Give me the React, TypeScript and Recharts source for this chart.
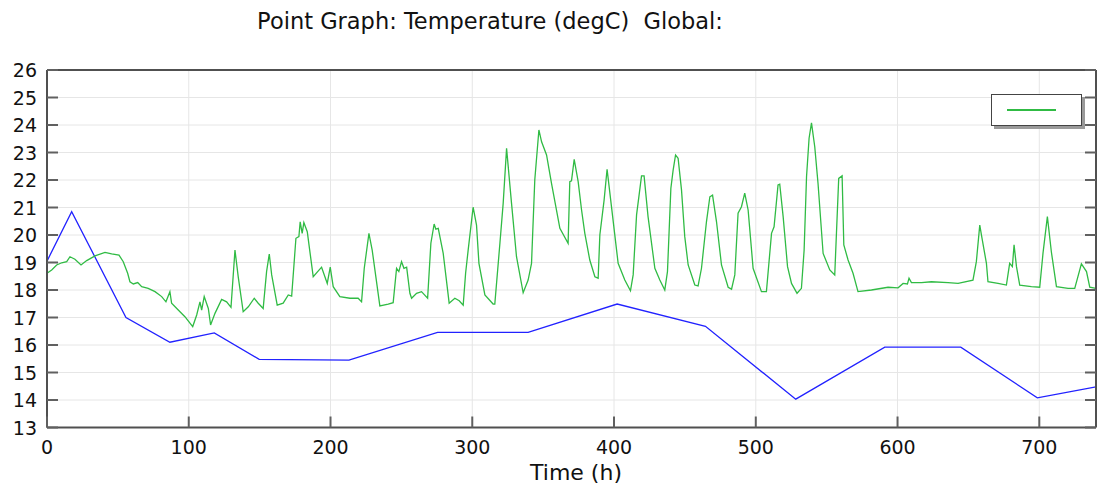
import React from 'react';
import { LineChart, Line, XAxis, YAxis, CartesianGrid } from 'recharts';

const titleText = 'Point Graph: Temperature (degC)  Global:';
const xAxisLabel = 'Time (h)';

const xTicks = [0, 100, 200, 300, 400, 500, 600, 700];
const yTicks = [13, 14, 15, 16, 17, 18, 19, 20, 21, 22, 23, 24, 25, 26];

const greenHours = [0, 3.3, 6.8, 10.4, 13.9, 16.2, 19.7, 24.0, 28.0, 33.9, 40.9, 45.6, 50.8, 53.8, 56.9, 58.5, 60.9, 64.0, 66.8, 71.4, 76.2, 80.9, 83.9, 86.7, 87.9, 92.6, 97.3, 102.8, 105.6, 107.9, 109.1, 110.9, 113.8, 115.4, 118.5, 123.2, 126.7, 129.8, 132.6, 134.9, 138.4, 142.0, 146.2, 149.0, 152.5, 154.9, 156.8, 158.5, 162.4, 166.6, 170.2, 172.6, 175.6, 177.7, 178.6, 180.0, 181.2, 183.6, 187.8, 193.7, 197.7, 199.8, 201.9, 206.6, 213.7, 219.5, 221.9, 223.8, 227.1, 229.4, 234.8, 240.7, 244.2, 246.6, 248.2, 250.1, 251.8, 253.7, 256.0, 257.2, 260.7, 264.2, 268.5, 270.8, 273.1, 274.3, 276.0, 279.5, 283.7, 287.7, 290.8, 293.6, 295.3, 297.1, 300.6, 303.0, 304.7, 308.9, 314.7, 315.9, 319.5, 321.8, 324.2, 327.7, 331.2, 335.9, 339.4, 341.8, 344.1, 347.0, 348.9, 352.4, 355.9, 361.8, 367.6, 368.8, 370.0, 371.9, 374.7, 377.1, 379.4, 382.9, 386.5, 388.8, 390.0, 393.0, 395.1, 398.2, 402.9, 407.6, 411.6, 413.5, 415.9, 419.4, 421.2, 424.0, 428.8, 432.3, 435.8, 437.7, 440.1, 441.7, 443.4, 445.2, 447.6, 449.9, 452.3, 457.0, 459.3, 461.7, 465.2, 467.6, 469.5, 472.3, 475.8, 480.5, 482.9, 485.2, 487.5, 489.9, 492.2, 494.6, 498.1, 504.0, 507.5, 511.1, 512.9, 515.7, 516.9, 519.3, 522.4, 525.2, 529.1, 532.2, 534.1, 535.8, 537.6, 539.3, 541.6, 543.9, 547.5, 552.2, 555.7, 558.5, 560.9, 562.1, 565.1, 568.6, 572.1, 581.6, 593.3, 600.4, 603.9, 607.0, 608.1, 609.8, 616.9, 623.9, 635.6, 642.7, 653.2, 655.6, 658.0, 659.6, 662.7, 663.8, 670.9, 676.8, 679.1, 681.0, 682.2, 683.9, 686.2, 694.4, 700.3, 702.6, 705.7, 708.5, 712.1, 720.3, 725.0, 729.7, 733.3, 735.6, 740];

const greenTemps = [18.61, 18.73, 18.91, 18.99, 19.03, 19.21, 19.12, 18.91, 19.07, 19.24, 19.37, 19.31, 19.27, 19.03, 18.61, 18.30, 18.22, 18.27, 18.12, 18.06, 17.94, 17.76, 17.57, 17.94, 17.52, 17.27, 17.03, 16.67, 17.09, 17.57, 17.27, 17.76, 17.33, 16.73, 17.15, 17.66, 17.57, 17.37, 19.45, 18.48, 17.21, 17.39, 17.70, 17.52, 17.33, 18.67, 19.31, 18.55, 17.45, 17.52, 17.82, 17.78, 19.88, 19.94, 20.48, 20.06, 20.45, 20.12, 18.48, 18.83, 18.24, 18.83, 18.12, 17.76, 17.70, 17.70, 17.57, 18.79, 20.06, 19.45, 17.42, 17.49, 17.54, 18.79, 18.67, 19.03, 18.79, 18.83, 17.88, 17.70, 17.88, 17.94, 17.70, 19.70, 20.40, 20.21, 20.24, 19.33, 17.52, 17.70, 17.61, 17.45, 18.61, 19.45, 21.01, 20.36, 18.97, 17.82, 17.49, 17.49, 19.70, 21.15, 23.15, 21.15, 19.21, 17.90, 18.36, 18.97, 22.0, 23.82, 23.39, 22.91, 21.88, 20.24, 19.70, 21.94, 21.97, 22.75, 21.94, 20.91, 20.06, 19.09, 18.48, 18.43, 20.0, 21.27, 22.39, 21.03, 18.97, 18.36, 17.97, 18.55, 20.73, 22.15, 22.15, 20.67, 18.79, 18.36, 18.0, 18.67, 21.70, 22.36, 22.91, 22.79, 21.64, 19.94, 18.91, 18.18, 18.15, 18.79, 20.48, 21.39, 21.45, 20.48, 18.91, 18.10, 18.03, 18.55, 20.79, 21.03, 21.52, 20.91, 18.79, 17.94, 17.94, 20.06, 20.30, 21.82, 21.85, 20.67, 18.85, 18.24, 17.88, 18.06, 19.45, 22.12, 23.52, 24.08, 23.21, 21.88, 19.33, 18.73, 18.55, 22.06, 22.15, 19.64, 19.09, 18.61, 17.94, 18.0, 18.10, 18.08, 18.24, 18.22, 18.43, 18.27, 18.27, 18.30, 18.27, 18.24, 18.36, 19.03, 20.36, 19.88, 18.97, 18.30, 18.24, 18.18, 18.97, 18.85, 19.64, 18.85, 18.18, 18.12, 18.10, 19.33, 20.67, 19.39, 18.12, 18.06, 18.06, 18.95, 18.67, 18.10, 18.06];

const blueHours = [0, 17.4, 55.7, 86.7, 118, 149.7, 213, 275.5, 339.4, 402.2, 464.5, 528.2, 591, 644.6, 698.6, 740];
const blueTemps = [19.05, 20.85, 17.0, 16.1, 16.44, 15.48, 15.45, 16.46, 16.46, 17.49, 16.68, 14.03, 15.92, 15.92, 14.08, 14.48];

const n = Math.min(greenHours.length, greenTemps.length);
const greenData = greenHours.slice(0, n).map((t, i) => ({ t, v: greenTemps[i] }));
const blueData = blueHours.map((t, i) => ({ t, v: blueTemps[i] }));

const FONT = '"DejaVu Sans", Verdana, sans-serif';
const TICK_COLOR = '#606060';
const FRAME = '#505050';
const TICK_LEN = 11;
const GREEN = '#30bb44';
const BLUE = '#2222ff';

const BottomTick = (props: any) => {
  const { x, y, payload } = props;
  return (
    <g>
      <line x1={x} x2={x} y1={y} y2={y - TICK_LEN} stroke={TICK_COLOR} strokeWidth={2} />
      <text x={x} y={y + 26} textAnchor="middle" fontSize={19} fontFamily={FONT} fill="#111">
        {payload.value}
      </text>
    </g>
  );
};

const TopTick = (props: any) => {
  const { x, y } = props;
  return <line x1={x} x2={x} y1={y} y2={y + TICK_LEN} stroke={TICK_COLOR} strokeWidth={2} />;
};

const LeftTick = (props: any) => {
  const { x, y, payload } = props;
  return (
    <g>
      <line x1={x} x2={x + TICK_LEN} y1={y} y2={y} stroke={TICK_COLOR} strokeWidth={2} />
      <text x={x - 10} y={y + 7} textAnchor="end" fontSize={19} fontFamily={FONT} fill="#111">
        {payload.value}
      </text>
    </g>
  );
};

const RightTick = (props: any) => {
  const { x, y } = props;
  return <line x1={x} x2={x - TICK_LEN} y1={y} y2={y} stroke={TICK_COLOR} strokeWidth={2} />;
};

export default function App() {
  return (
    <div style={{ position: 'absolute', left: 0, top: 0, width: 1097, height: 486, overflow: 'hidden', background: '#fff' }}>
      <LineChart
        width={1097}
        height={486}
        margin={{ top: 69, right: 0, bottom: 18.5, left: 0 }}
      >
        <CartesianGrid
          horizontal={{ stroke: '#ebebeb', strokeWidth: 2.5 } as any}
          vertical={{ stroke: '#e0e0e0', strokeWidth: 1.2 } as any}
          stroke="#e6e6e6"
        />
        <XAxis
          type="number"
          dataKey="t"
          domain={[0, 740]}
          ticks={xTicks}
          interval={0}
          allowDataOverflow
          height={40}
          tickSize={0}
          tickMargin={0}
          tickLine={false}
          axisLine={{ stroke: FRAME, strokeWidth: 2 }}
          tick={<BottomTick />}
        />
        <XAxis
          xAxisId="top"
          orientation="top"
          type="number"
          domain={[0, 740]}
          ticks={xTicks}
          interval={0}
          allowDataOverflow
          height={1}
          tickSize={0}
          tickMargin={0}
          tickLine={false}
          axisLine={{ stroke: FRAME, strokeWidth: 2 }}
          tick={<TopTick />}
        />
        <YAxis
          type="number"
          domain={[13, 26]}
          ticks={yTicks}
          interval={0}
          allowDataOverflow
          width={47}
          tickSize={0}
          tickMargin={0}
          tickLine={false}
          axisLine={{ stroke: FRAME, strokeWidth: 2 }}
          tick={<LeftTick />}
        />
        <YAxis
          yAxisId="r"
          orientation="right"
          type="number"
          domain={[13, 26]}
          ticks={yTicks}
          interval={0}
          allowDataOverflow
          width={1}
          tickSize={0}
          tickMargin={0}
          tickLine={false}
          axisLine={{ stroke: FRAME, strokeWidth: 2 }}
          tick={<RightTick />}
        />
        <Line
          data={blueData}
          dataKey="v"
          type="linear"
          stroke={BLUE}
          strokeWidth={1.3}
          dot={false}
          isAnimationActive={false}
        />
        <Line
          data={greenData}
          dataKey="v"
          type="linear"
          stroke={GREEN}
          strokeWidth={1.3}
          dot={false}
          isAnimationActive={false}
        />
      </LineChart>
      <div
        style={{
          position: 'absolute',
          left: 490,
          top: 8,
          transform: 'translateX(-50%)',
          whiteSpace: 'pre',
          fontFamily: FONT,
          fontSize: 22.5,
          lineHeight: '26px',
          color: '#111',
        }}
      >
        {titleText}
      </div>
      <div
        style={{
          position: 'absolute',
          left: 576,
          top: 460,
          transform: 'translateX(-50%)',
          whiteSpace: 'pre',
          fontFamily: FONT,
          fontSize: 22,
          lineHeight: '26px',
          color: '#111',
        }}
      >
        {xAxisLabel}
      </div>
      <div
        style={{
          position: 'absolute',
          left: 991,
          top: 94,
          width: 89,
          height: 30,
          border: '1.5px solid #444',
          background: '#fff',
          boxShadow: '3px 3px 0 #9a9a9a',
        }}
      >
        <div
          style={{
            position: 'absolute',
            left: 15,
            top: 14,
            width: 49,
            height: 0,
            borderTop: '2px solid ' + GREEN,
          }}
        />
      </div>
    </div>
  );
}
